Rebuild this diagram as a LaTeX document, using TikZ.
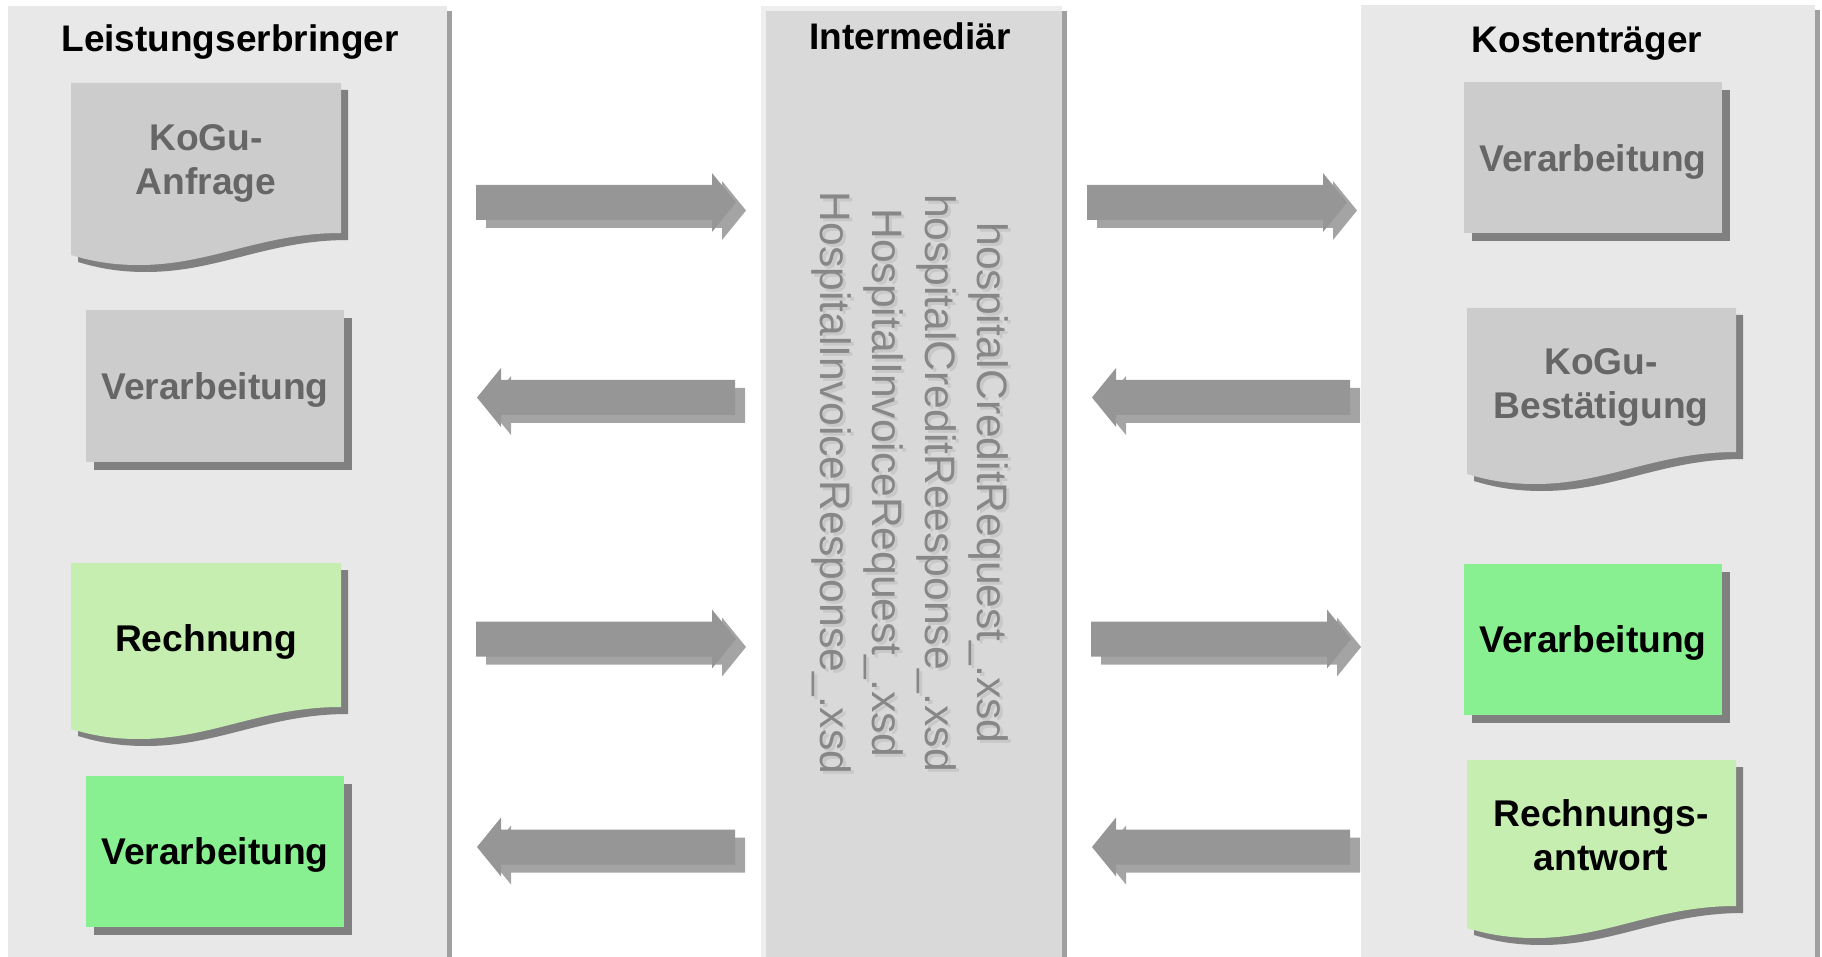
\documentclass[tikz,border=0pt]{standalone}
\usepackage{fontspec}
\setmainfont{Liberation Sans}
\usetikzlibrary{calc,shadows}
\definecolor{panel}{HTML}{E8E8E8}
\definecolor{panelshade}{HTML}{A0A0A0}
\definecolor{midfill}{HTML}{D9D9D9}
\definecolor{midframe}{HTML}{EEEEEE}
\definecolor{boxgray}{HTML}{CCCCCC}
\definecolor{boxshade}{HTML}{808080}
\definecolor{textgray}{HTML}{666666}
\definecolor{lightgreen}{HTML}{C6EEB0}
\definecolor{brightgreen}{HTML}{88F090}
\definecolor{arrowgray}{HTML}{969696}
\definecolor{arrowshade}{HTML}{A4A4A4}
\definecolor{xsdgray}{HTML}{878787}
\definecolor{xsdshade}{HTML}{C8C8C8}
% document sheet: left, top, right, bottom (right side), fill
\newcommand\docshape[5]{%
  \foreach \f/\s in {boxshade/7,#5/0}
  \fill[fill=\f,shift={(\s,\s)}] (#1,#2) -- (#3,#2) -- (#3,#4)
    .. controls (#3-80,#4) and (#1+140,#4+32) .. (#1+68,#4+32)
    .. controls (#1+40,#4+32) and (#1+20,#4+28) .. (#1,#4+22) -- cycle;
}
% block arrow: fill, offset, tail, tip
\newcommand\flow[4]{%
  \fill[#1] let \p1=($(#3)+#2$), \p2=($(#4)+#2$), \p3=($(#4)!12pt!(#3)+#2$) in
    (\x1,\y1+8.75pt) -- (\x3,\y1+8.75pt) -- (\x3,\y1+14.75pt) -- (\p2)
    -- (\x3,\y1-14.75pt) -- (\x3,\y1-8.75pt) -- (\x1,\y1-8.75pt) -- cycle;
}
\begin{document}
\begin{tikzpicture}[x=0.5pt,y=-0.5pt,
  title/.style={font=\fontsize{18.5}{22}\selectfont\bfseries},
  boxtext/.style={font=\fontsize{18.6}{22}\selectfont\bfseries,align=center},
  verarb/.style={boxtext,minimum width=129pt,minimum height=75.5pt,inner sep=0pt,text depth=0pt,
    drop shadow={shadow xshift=4pt,shadow yshift=-4pt,fill=boxshade,opacity=1}},
  xsd/.style={font=\fontsize{21.3}{26.3}\selectfont,align=center,rotate=-90}]
\useasboundingbox (0,0) rectangle (1822,957);
\fill[panelshade] (13,11) rectangle (452,957);
\fill[panel] (8,6) rectangle (447,957);
\fill[panelshade] (1366,10) rectangle (1820,957);
\fill[panel] (1361,5) rectangle (1815,957);
\fill[panelshade] (766,11) rectangle (1067,957);
\fill[midframe] (761,6) rectangle (1062,957);
\fill[midfill] (766,11) rectangle (1062,957);
\node[title,anchor=base] (le) at (230,52) {Leistungserbringer};
\node[title,anchor=base] (im) at (910,50) {Intermediär};
\node[title,anchor=base] (kt) at (1587,53) {Kostenträger};

\docshape{71}{83}{341}{233}{boxgray}
\docshape{71}{563}{341}{707}{lightgreen}
\docshape{1467}{308}{1736}{452}{boxgray}
\docshape{1467}{760}{1736}{906}{lightgreen}
\node[boxtext,text=textgray] (anfrage) at (206,163) {KoGu-\\Anfrage};
\node[boxtext] (rechnung) at (206,642) {Rechnung};
\node[boxtext,text=textgray] (bestaetigung) at (1601,387) {KoGu-\\Bestätigung};
\node[boxtext] (antwort) at (1601,835) {Rechnungs-\\antwort};

\node[verarb,fill=boxgray,text=textgray] (verarbLE) at (215,386) {Verarbeitung};
\node[verarb,fill=brightgreen] (pruefLE) at (215,851) {Verarbeitung};
\node[verarb,fill=boxgray,text=textgray] (verarbKT) at (1593,158) {Verarbeitung};
\node[verarb,fill=brightgreen] (pruefKT) at (1593,639) {Verarbeitung};

\coordinate (a1) at (476,202.5); \coordinate (b1) at (736,202.5);
\coordinate (c1) at (1087,202.5); \coordinate (d1) at (1347,202.5);
\coordinate (a2) at (477,397.5); \coordinate (b2) at (735,397.5);
\coordinate (c2) at (1092,397.5); \coordinate (d2) at (1350,397.5);
\coordinate (a3) at (476,639); \coordinate (b3) at (736,639);
\coordinate (c3) at (1091,639); \coordinate (d3) at (1351,639);
\coordinate (a4) at (477,847); \coordinate (b4) at (735,847);
\coordinate (c4) at (1092,847); \coordinate (d4) at (1350,847);
\foreach \r in {1,3}{
  \flow{arrowshade}{(10,8)}{a\r}{b\r} \flow{arrowgray}{(0,0)}{a\r}{b\r}
  \flow{arrowshade}{(10,8)}{c\r}{d\r} \flow{arrowgray}{(0,0)}{c\r}{d\r}
}
\foreach \r in {2,4}{
  \flow{arrowshade}{(10,8)}{b\r}{a\r} \flow{arrowgray}{(0,0)}{b\r}{a\r}
  \flow{arrowshade}{(10,8)}{d\r}{c\r} \flow{arrowgray}{(0,0)}{d\r}{c\r}
}

\node[xsd,text=xsdshade] (filesshade) at (913,486) {hospitalCreditRequest\_.xsd\\hospitalCreditReesponse\_.xsd\\HospitalInvoiceRequest\_.xsd\\HospitalInvoiceResponse\_.xsd};
\node[xsd,text=xsdgray] (files) at (910,483) {hospitalCreditRequest\_.xsd\\hospitalCreditReesponse\_.xsd\\HospitalInvoiceRequest\_.xsd\\HospitalInvoiceResponse\_.xsd};
\end{tikzpicture}
\end{document}
